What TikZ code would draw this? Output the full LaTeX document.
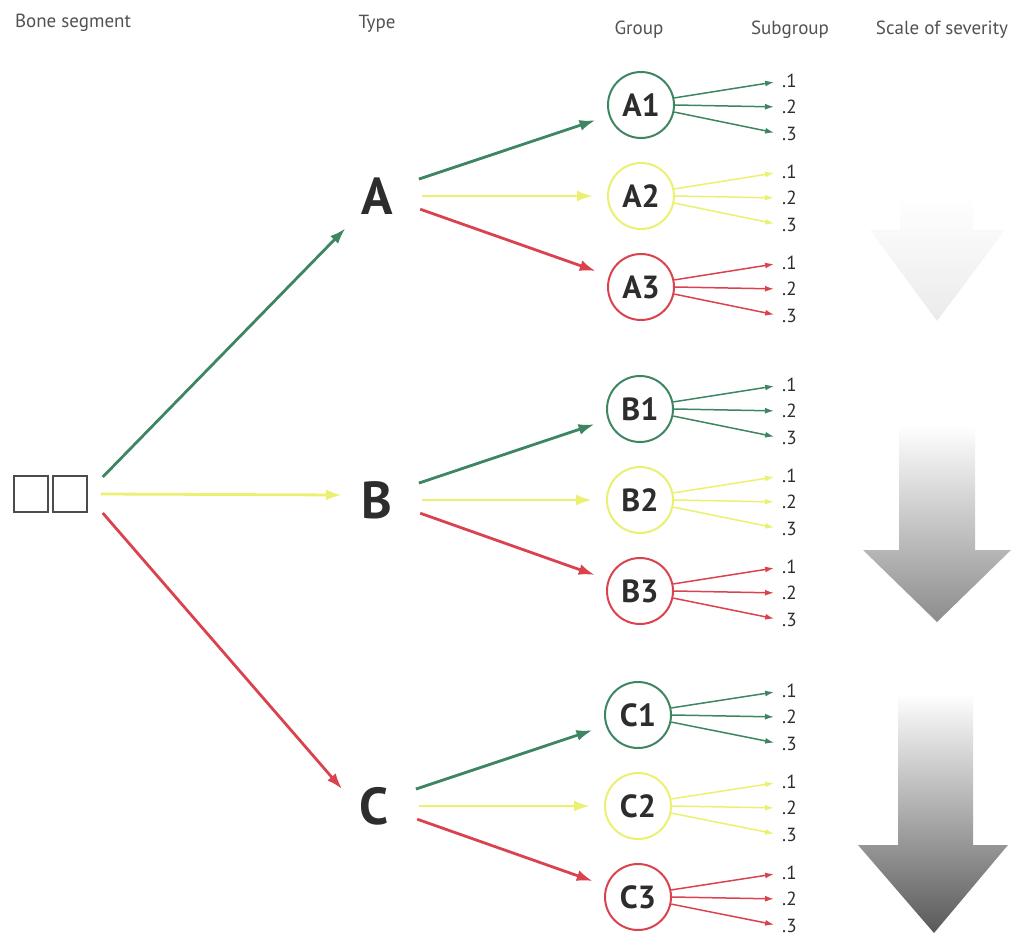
\documentclass[tikz,border=0pt]{standalone}
\usepackage{fontspec}
\setmainfont{PT Sans}
\usetikzlibrary{arrows.meta}
\definecolor{grn}{RGB}{62,133,98}
\definecolor{ylw}{RGB}{236,240,112}
\definecolor{rd}{RGB}{218,66,78}
\definecolor{ink}{RGB}{45,45,45}

\begin{document}
\begin{tikzpicture}[x=1pt,y=-1pt,
	headtext/.style={font=\fontsize{19}{19}\selectfont,text=black!68},
	segbox/.style={draw=black!70,line width=1.5pt,minimum width=34pt,minimum height=36pt,inner sep=0pt},
	typenode/.style={circle,minimum size=90pt,inner sep=0pt,text=ink,font=\bfseries\fontsize{52}{52}\selectfont},
	groupnode/.style={circle,draw=#1,line width=2pt,minimum size=66pt,inner sep=0pt,text=ink,font=\bfseries\fontsize{32}{32}\selectfont},
	subnode/.style={anchor=west,inner sep=1pt,text=ink,font=\fontsize{19}{19}\selectfont},
	bigarrow/.style={draw=#1,line width=2.8pt,-{Latex[length=16pt,width=11pt]}},
	subarrow/.style={draw=#1,line width=1.5pt,-{Latex[length=9pt,width=6pt]},shorten >=7pt}]
\useasboundingbox (0,0) rectangle (1020,936);
\node[headtext] (hseg) at (73,23) {Bone segment};
\node[headtext] (htype) at (377,24) {Type};
\node[headtext] (hgroup) at (639,30) {Group};
\node[headtext] (hsub) at (790,30) {Subgroup};
\node[headtext] (hsev) at (942,30) {Scale of severity};
\node[segbox] (sq1) at (31,494) {};
\node[segbox] (sq2) at (70,494) {};
\node[typenode] (A) at (377,196) {A};
\node[typenode] (B) at (377,500) {B};
\node[typenode] (C) at (374,806) {C};
\draw[bigarrow=grn] ([xshift=15pt,yshift=17pt]sq2.east) -- (A);
\draw[bigarrow=ylw] ([xshift=13pt]sq2.east) -- ([xshift=10pt,yshift=5pt]B.west);
\draw[bigarrow=rd] ([xshift=15pt,yshift=-19pt]sq2.east) -- ([xshift=10pt]C.158);
\foreach \t/\ty/\tx in {A/196/641, B/500/640, C/806/638} {
	\foreach \g/\col/\dy/\ang in {1/grn/-91/22, 2/ylw/0/0, 3/rd/91/-17} {
		\node[groupnode=\col] (\t\g) at (\tx,\ty+\dy) {\t\g};
		\draw[bigarrow=\col,shorten >=14pt] (\t.\ang) -- (\t\g);
		\foreach \s/\sy/\sa in {1/-24/12, 2/2/0, 3/29/-12} {
			\node[subnode] (\t\g s\s) at (781,\ty+\dy+\sy) {.\s};
			\draw[subarrow=\col] (\t\g.\sa) -- (\t\g s\s.west);
		}
	}
}
\shade[top color=white,bottom color=black!8] (900,195) -- (973,195) -- (973,230) -- (1005,230)
	-- (937,321) -- (870,230) -- (900,230) -- cycle;
\shade[top color=white,bottom color=black!45] (899,425) -- (975,425) -- (975,550) -- (1011,550)
	-- (937,622) -- (863,550) -- (899,550) -- cycle;
\shade[top color=white,bottom color=black!65] (898,693) -- (973,693) -- (973,845) -- (1008,845)
	-- (934,933) -- (858,845) -- (898,845) -- cycle;
\end{tikzpicture}
\end{document}
